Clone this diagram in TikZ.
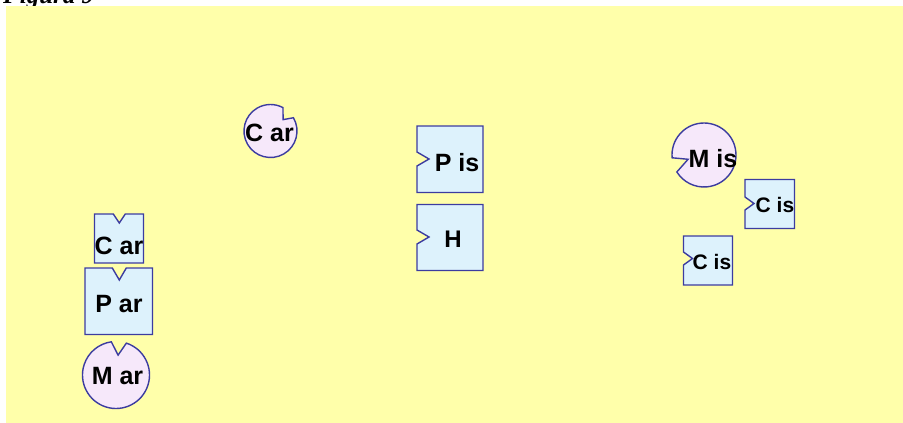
\documentclass[tikz,border=0pt]{standalone}
\usepackage{fontspec}
\setmainfont{Liberation Sans}
\newfontfamily\titlefont{Liberation Serif}
\usetikzlibrary{calc}
\definecolor{bgyellow}{RGB}{255,255,170}
\definecolor{boxblue}{RGB}{221,242,252}
\definecolor{circpink}{RGB}{246,232,250}
\definecolor{edgeblue}{RGB}{60,60,160}
\tikzset{
  boxshape/.style={draw=edgeblue, line width=1.4pt, fill=boxblue, line join=miter},
  circshape/.style={draw=edgeblue, line width=1.4pt, fill=circpink, line join=miter},
  lbl/.style={font=\bfseries\fontsize{25}{25}\selectfont, inner sep=0pt, anchor=base},
  lblh/.style={font=\bfseries\fontsize{24}{24}\selectfont, inner sep=0pt, anchor=base},
  lblsmall/.style={font=\bfseries\fontsize{21}{21}\selectfont, inner sep=0pt, anchor=base},
  titlestyle/.style={font=\titlefont\bfseries\itshape\fontsize{25}{25}\selectfont, inner sep=0pt, anchor=base west}
}
\begin{document}
\begin{tikzpicture}[x=1pt,y=-1pt]
\useasboundingbox (0,0) rectangle (903,423);
\node[titlestyle] (title) at (3,4) {Figura 9};
\fill[bgyellow] (6,6) rectangle (903,423);

% notched circle "C ar"
\path[circshape] ($(270.5,131)+(-30:26.5)$) arc[start angle=-30, end angle=298, radius=26.5]
  -- ($(270.5,131)+(-42:17)$) -- cycle;
\node[lbl] (car1) at (269.5,141) {C ar};

% box "P is"
\path[boxshape] (417,126) -- (483,126) -- (483,192.5) -- (417,192.5) -- (417,166) -- (429,159) -- (417,152) -- cycle;
\node[lbl] (pis) at (457,171.5) {P is};

% box "H"
\path[boxshape] (417,204.5) -- (483,204.5) -- (483,270.5) -- (417,270.5) -- (417,244) -- (429,237) -- (417,230) -- cycle;
\node[lblh] (h) at (453,247.5) {H};

% notched circle "M is"
\path[circshape] ($(704,155)+(-185:32)$) arc[start angle=-185, end angle=148, radius=32]
  -- ($(704,155)+(-195:16.5)$) -- cycle;
\node[lbl] (mis) at (713,167.5) {M is};

% box "C is" right
\path[boxshape] (745,179.5) -- (794.5,179.5) -- (794.5,228.5) -- (745,228.5) -- (745,210) -- (754,203.5) -- (745,197) -- cycle;
\node[lblsmall] (cis1) at (775,212.5) {C is};

% box "C is" lower
\path[boxshape] (683.5,236) -- (732.5,236) -- (732.5,285) -- (683.5,285) -- (683.5,265) -- (692.5,258.5) -- (683.5,252) -- cycle;
\node[lblsmall] (cis2) at (712,269) {C is};

% box "C ar"
\path[boxshape] (94.5,214) -- (113.3,214) -- (119.3,223) -- (125.3,214) -- (143.5,214) -- (143.5,263) -- (94.5,263) -- cycle;
\node[lbl] (car2) at (119,254) {C ar};

% box "P ar"
\path[boxshape] (85,268) -- (112.3,268) -- (119.3,280) -- (126.3,268) -- (152.5,268) -- (152.5,334.5) -- (85,334.5) -- cycle;
\node[lbl] (par) at (119,312.8) {P ar};

% notched circle "M ar"
\path[circshape] ($(116,375)+(-72:33.5)$) arc[start angle=-72, end angle=262, radius=33.5]
  -- ($(116,375)+(-84:20)$) -- cycle;
\node[lbl] (mar) at (117.5,384) {M ar};
\end{tikzpicture}
\end{document}
